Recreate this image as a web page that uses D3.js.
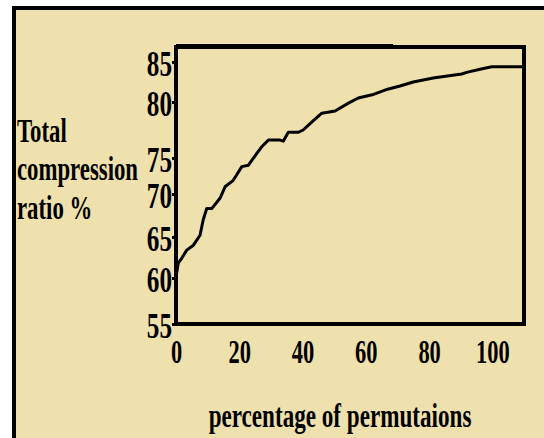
<!DOCTYPE html>
<html>
<head>
<meta charset="utf-8">
<script src="https://cdn.jsdelivr.net/npm/d3@7"></script>
<style>
  body { margin: 0; background: #fff; }
  text { font-family: "Liberation Serif", "Times New Roman", serif; font-weight: bold; fill: #000; }
</style>
</head>
<body>
<svg id="chart" width="544" height="438"></svg>
<script>
// data
const permPct = [0, 0.7, 1.8, 3.4, 5.5, 7.6, 8.6, 9.7, 11.3, 13.9, 15.5, 18.1, 20.8, 22.9, 25.5, 27.1, 29.2, 32.9, 33.9, 35.5, 38.7, 40.2, 42.9, 46.1, 50.3, 54.5, 57.6, 62.0, 66.9, 70.8, 75.0, 81.3, 90.3, 91.9, 96.1, 99.8, 110]
const ratioPct = [60.1, 61.8, 62.4, 63.4, 64.0, 65.2, 67.0, 68.3, 68.3, 69.5, 71.0, 71.9, 73.8, 74.0, 75.4, 76.0, 76.6, 76.6, 76.5, 77.3, 77.3, 77.5, 78.2, 79.0, 79.2, 79.9, 80.5, 80.9, 81.6, 82.0, 82.5, 83.0, 83.5, 83.7, 84.1, 84.4, 84.4]
const xTicks = [0, 20, 40, 60, 80, 100]
const yTicks = [55, 60, 65, 70, 75, 80, 85]
const yTitle = ["Total", "compression", "ratio %"]
const xTitle = "percentage of permutaions"

const bg = "#efe1ae"
const svg = d3.select("#chart")

// outer frame
svg.append("rect")
   .attr("x", 14).attr("y", 8)
   .attr("width", 560).attr("height", 460)
   .attr("fill", bg)
   .attr("stroke", "#000")
   .attr("stroke-width", 4)

const box = {left: 176, right: 524, top: 47, bottom: 324}

const xScale = d3.scaleLinear().domain([0, 110]).range([box.left, box.right])
// the printed y axis is not evenly spaced, so keep its tick positions
const yScale = d3.scaleLinear()
    .domain([55, 60, 65, 70, 75, 80, 85, 87])
    .range([324, 278, 237, 194, 158, 102, 62, 46])

// plot box
svg.append("rect")
   .attr("x", box.left).attr("y", box.top)
   .attr("width", box.right - box.left).attr("height", box.bottom - box.top)
   .attr("fill", "none")
   .attr("stroke", "#000")
   .attr("stroke-width", 4)
svg.append("line")
   .attr("x1", box.left).attr("x2", 393)
   .attr("y1", box.top - 1).attr("y2", box.top - 1)
   .attr("stroke", "#000").attr("stroke-width", 4)

// y axis
const yAxis = d3.axisLeft(yScale).tickValues(yTicks).tickSize(3).tickSizeOuter(0)
const yAxisG = svg.append("g")
    .attr("transform", `translate(${box.left - 1}, 0)`)
    .call(yAxis)
yAxisG.select(".domain").remove()
yAxisG.selectAll(".tick line").attr("stroke", "#000").attr("stroke-width", 3)
yAxisG.selectAll(".tick text")
    .attr("font-size", 35)
    .attr("font-family", "Liberation Serif, serif")
    .attr("x", -3 / 0.72)
    .attr("dy", null)
    .attr("y", 13)
    .attr("transform", "scale(0.72,1)")

// x axis
const xAxis = d3.axisBottom(xScale).tickValues(xTicks).tickSize(0).tickSizeOuter(0)
const xAxisG = svg.append("g")
    .attr("transform", `translate(0, ${box.bottom})`)
    .call(xAxis)
xAxisG.select(".domain").remove()
xAxisG.selectAll(".tick text")
    .attr("font-size", 34)
    .attr("font-family", "Liberation Serif, serif")
    .attr("dy", null)
    .attr("y", 39)
    .attr("transform", "scale(0.66,1)")

// curve
const line = d3.line()
    .x((d, i) => xScale(permPct[i]))
    .y(d => yScale(d))
svg.append("path")
   .datum(ratioPct)
   .attr("d", line)
   .attr("fill", "none")
   .attr("stroke", "#000")
   .attr("stroke-width", 3)
   .attr("stroke-linejoin", "round")

// axis titles
svg.append("g")
   .attr("transform", "translate(17, 0) scale(0.67,1)")
   .selectAll("text")
   .data(yTitle)
   .join("text")
   .attr("x", 0)
   .attr("y", (d, i) => 142 + i * 38.5)
   .attr("font-size", 34)
   .text(d => d)

svg.append("text")
   .attr("transform", "translate(340, 427) scale(0.68,1)")
   .attr("text-anchor", "middle")
   .attr("font-size", 34)
   .text(xTitle)
</script>
</body>
</html>
